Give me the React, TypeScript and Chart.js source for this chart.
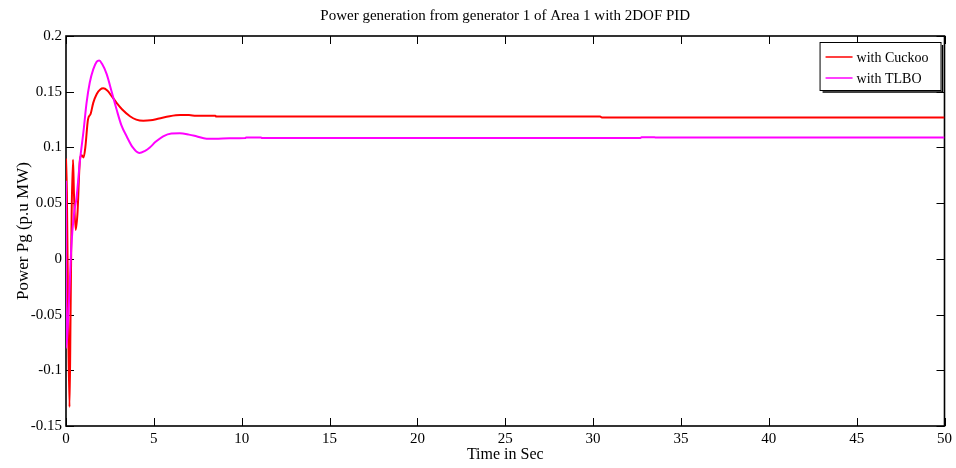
import { useEffect, useRef } from "react";
import { Chart, registerables } from "chart.js";

Chart.register(...registerables);

// Generator 1 output, Area 1, 2DOF PID tuned with the Cuckoo search
const cuckooTime = [
  0, 0.05, 0.12, 0.2, 0.26, 0.32, 0.4, 0.45, 0.55, 0.65, 0.8, 0.9, 1.0, 1.1,
  1.25, 1.4, 1.55, 1.75, 1.95, 2.12, 2.35, 2.6, 2.88, 3.2, 3.64, 4.0, 4.4, 4.8,
  5.3, 5.9, 6.5, 7.0, 7.4, 8.5, 8.55, 30.4, 30.5, 50,
];
const cuckooPg = [
  0.09, 0.06, -0.05, -0.133, -0.05, 0.04, 0.089, 0.06, 0.026, 0.04, 0.09, 0.093,
  0.091, 0.1, 0.125, 0.13, 0.14, 0.148, 0.152, 0.153, 0.151, 0.146, 0.14, 0.134,
  0.128, 0.125, 0.124, 0.1243, 0.126, 0.128, 0.129, 0.129, 0.1285, 0.1285,
  0.1277, 0.1277, 0.1268, 0.1268,
];

// Same generator with the TLBO-tuned controller
const tlboTime = [
  0, 0.02, 0.15, 0.3, 0.45, 0.6, 0.8, 1.0, 1.17, 1.35, 1.55, 1.75, 1.89, 2.05,
  2.31, 2.6, 2.88, 3.15, 3.45, 3.8, 4.17, 4.5, 4.77, 5.1, 5.53, 6.0, 6.48, 7.0,
  7.42, 8.0, 8.5, 9.3, 10.2, 10.25, 11.1, 11.15, 32.7, 32.75, 33.5, 33.55, 50,
];
const tlboPg = [
  0.07, -0.08, -0.045, 0.01, 0.04, 0.055, 0.089, 0.115, 0.14, 0.158, 0.17,
  0.177, 0.178, 0.175, 0.166, 0.15, 0.134, 0.12, 0.11, 0.1, 0.095, 0.097, 0.1,
  0.105, 0.11, 0.1125, 0.1127, 0.1115, 0.11, 0.1078, 0.1077, 0.1082, 0.1084,
  0.109, 0.109, 0.1085, 0.1085, 0.1091, 0.1091, 0.1088, 0.1088,
];

const seriesLabels = ["with Cuckoo", "with TLBO"];
const seriesColors = ["#ff0000", "#ff00ff"];

const SERIF = '"Liberation Serif", "Times New Roman", serif';

const toPoints = (xs: number[], ys: number[]) =>
  xs.map((x, i) => ({ x, y: ys[i] }));

// Box around the plot with inward-pointing tick marks on every side
const framePlugin = {
  id: "frameTicks",
  beforeDatasetsDraw(chart: any) {
    const { ctx, chartArea, scales } = chart;
    const { left, right, top, bottom } = chartArea;
    const xs = scales.x;
    const ys = scales.y;
    const len = 8;
    ctx.save();
    ctx.strokeStyle = "#000";
    ctx.lineWidth = 1;
    ctx.beginPath();
    xs.ticks.forEach((t: any) => {
      const px = Math.round(xs.getPixelForValue(t.value)) + 0.5;
      ctx.moveTo(px, bottom);
      ctx.lineTo(px, bottom - len);
      ctx.moveTo(px, top);
      ctx.lineTo(px, top + len);
    });
    ys.ticks.forEach((t: any) => {
      const py = Math.round(ys.getPixelForValue(t.value)) + 0.5;
      ctx.moveTo(left, py);
      ctx.lineTo(left + len, py);
      ctx.moveTo(right, py);
      ctx.lineTo(right - len, py);
    });
    ctx.stroke();
    ctx.lineWidth = 1.6;
    ctx.strokeRect(left, top, right - left, bottom - top);
    ctx.restore();
  },
};

// Legend drawn inside the upper-right corner of the plot
const legendPlugin = {
  id: "insetLegend",
  afterDatasetsDraw(chart: any) {
    const { ctx, chartArea } = chart;
    const datasets = chart.data.datasets;
    ctx.save();
    ctx.font = `14px ${SERIF}`;
    const maxW = Math.max(
      ...datasets.map((d: any) => ctx.measureText(d.label).width)
    );
    const lineLen = 27;
    const boxW = 6 + lineLen + 4 + maxW + 12;
    const boxH = 48;
    const bx = chartArea.right - 4 - boxW;
    const by = chartArea.top + 6;
    ctx.fillStyle = "#fff";
    ctx.fillRect(bx, by, boxW, boxH);
    ctx.strokeStyle = "#000";
    ctx.lineWidth = 1;
    ctx.strokeRect(bx + 0.5, by + 0.5, boxW, boxH);
    ctx.lineWidth = 1.5;
    ctx.beginPath();
    ctx.moveTo(bx + 3, by + boxH + 2);
    ctx.lineTo(bx + boxW + 2, by + boxH + 2);
    ctx.lineTo(bx + boxW + 2, by + 3);
    ctx.stroke();
    datasets.forEach((d: any, i: number) => {
      const cy = by + 15 + i * 21;
      ctx.strokeStyle = d.borderColor;
      ctx.lineWidth = 1.5;
      ctx.beginPath();
      ctx.moveTo(bx + 6, cy);
      ctx.lineTo(bx + 6 + lineLen, cy);
      ctx.stroke();
      ctx.fillStyle = "#000";
      ctx.textBaseline = "middle";
      ctx.textAlign = "left";
      ctx.fillText(d.label, bx + 6 + lineLen + 4, cy + 1);
    });
    ctx.restore();
  },
};

export default function App() {
  const canvasRef = useRef<HTMLCanvasElement | null>(null);

  useEffect(() => {
    if (!canvasRef.current) return;
    const chart = new Chart(canvasRef.current, {
      type: "line",
      data: {
        datasets: [
          {
            label: seriesLabels[0],
            data: toPoints(cuckooTime, cuckooPg),
            borderColor: seriesColors[0],
            borderWidth: 2,
            pointRadius: 0,
            cubicInterpolationMode: "monotone",
            order: 1,
          },
          {
            label: seriesLabels[1],
            data: toPoints(tlboTime, tlboPg),
            borderColor: seriesColors[1],
            borderWidth: 2,
            pointRadius: 0,
            cubicInterpolationMode: "monotone",
            order: 0,
          },
        ],
      },
      plugins: [framePlugin, legendPlugin],
      options: {
        animation: false,
        responsive: false,
        maintainAspectRatio: false,
        layout: { padding: { left: 9, right: 9, top: 0, bottom: 0 } },
        plugins: {
          legend: { display: false },
          tooltip: { enabled: false },
          title: {
            display: true,
            text: "Power generation from generator 1 of Area 1 with 2DOF PID",
            color: "#000",
            fullSize: false,
            font: { family: SERIF, size: 15, weight: "normal" },
            padding: { top: 7, bottom: 11 },
          },
        },
        scales: {
          x: {
            type: "linear",
            min: 0,
            max: 50,
            grid: { display: false, drawTicks: false },
            border: { display: false },
            ticks: {
              stepSize: 5,
              color: "#000",
              padding: 4,
              maxRotation: 0,
              font: { family: SERIF, size: 15 },
            },
            title: {
              display: true,
              text: "Time in Sec",
              color: "#000",
              font: { family: SERIF, size: 16 },
            },
            afterFit: (scale: any) => {
              scale.height = 42;
            },
          },
          y: {
            type: "linear",
            min: -0.15,
            max: 0.2,
            grid: { display: false, drawTicks: false },
            border: { display: false },
            ticks: {
              stepSize: 0.05,
              color: "#000",
              padding: 4,
              font: { family: SERIF, size: 15 },
              callback: (v: any) => String(Number(Number(v).toFixed(2))),
            },
            title: {
              display: true,
              text: "Power Pg (p.u MW)",
              color: "#000",
              font: { family: SERIF, size: 17 },
            },
            afterFit: (scale: any) => {
              scale.width = 57;
            },
          },
        },
      },
    } as any);
    return () => chart.destroy();
  }, []);

  return (
    <div
      style={{
        position: "absolute",
        left: 0,
        top: 0,
        width: 956,
        height: 468,
        background: "#fff",
      }}
    >
      <canvas ref={canvasRef} width={956} height={468} />
    </div>
  );
}
